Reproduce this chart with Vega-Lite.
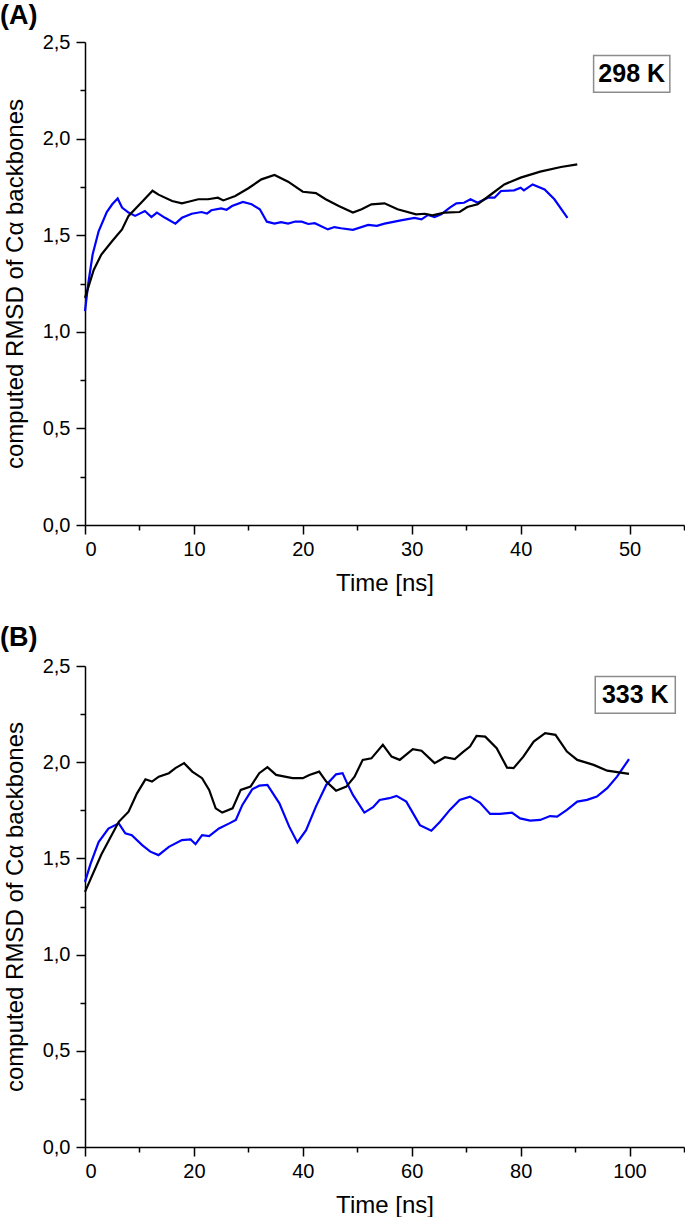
{
  "$schema": "https://vega.github.io/schema/vega-lite/v6.json",
  "autosize": {"type": "pad"},
  "padding": {"left": 0, "top": 2, "right": 0, "bottom": 0},
  "background": "white",
  "spacing": 141,
  "bounds": "flush",
  "config": {
    "view": {"stroke": null},
    "font": "Liberation Sans",
    "axis": {
      "grid": false,
      "domainColor": "black",
      "domainWidth": 1.5,
      "tickColor": "black",
      "tickWidth": 1.5,
      "labelColor": "black",
      "labelFont": "Liberation Sans",
      "labelFontSize": 20,
      "titleFont": "Liberation Sans",
      "titleFontSize": 24,
      "titleFontWeight": "normal",
      "titleColor": "black"
    }
  },
  "datasets": {
    "A": [
      {"s": "blue", "t": 0, "v": 1.107}, {"s": "blue", "t": 0.3, "v": 1.25}, {"s": "blue", "t": 0.7, "v": 1.40}, {"s": "blue", "t": 1.25, "v": 1.52}, {"s": "blue", "t": 2.0, "v": 1.62}, {"s": "blue", "t": 2.5, "v": 1.66}, {"s": "blue", "t": 3.0, "v": 1.69}, {"s": "blue", "t": 3.4, "v": 1.643}, {"s": "blue", "t": 4.0, "v": 1.617}, {"s": "blue", "t": 4.6, "v": 1.600}, {"s": "blue", "t": 5.5, "v": 1.625}, {"s": "blue", "t": 6.1, "v": 1.594}, {"s": "blue", "t": 6.6, "v": 1.617}, {"s": "blue", "t": 7.35, "v": 1.590}, {"s": "blue", "t": 8.3, "v": 1.560}, {"s": "blue", "t": 8.9, "v": 1.590}, {"s": "blue", "t": 9.8, "v": 1.611}, {"s": "blue", "t": 10.7, "v": 1.620}, {"s": "blue", "t": 11.2, "v": 1.612}, {"s": "blue", "t": 11.6, "v": 1.629}, {"s": "blue", "t": 12.5, "v": 1.639}, {"s": "blue", "t": 13.0, "v": 1.632}, {"s": "blue", "t": 13.5, "v": 1.651}, {"s": "blue", "t": 14.5, "v": 1.672}, {"s": "blue", "t": 15.3, "v": 1.660}, {"s": "blue", "t": 16.05, "v": 1.634}, {"s": "blue", "t": 16.7, "v": 1.570}, {"s": "blue", "t": 17.4, "v": 1.560}, {"s": "blue", "t": 18.0, "v": 1.568}, {"s": "blue", "t": 18.65, "v": 1.560}, {"s": "blue", "t": 19.3, "v": 1.571}, {"s": "blue", "t": 19.9, "v": 1.570}, {"s": "blue", "t": 20.5, "v": 1.558}, {"s": "blue", "t": 21.1, "v": 1.562}, {"s": "blue", "t": 22.3, "v": 1.530}, {"s": "blue", "t": 22.9, "v": 1.542}, {"s": "blue", "t": 23.5, "v": 1.536}, {"s": "blue", "t": 24.6, "v": 1.528}, {"s": "blue", "t": 26.0, "v": 1.553}, {"s": "blue", "t": 26.8, "v": 1.548}, {"s": "blue", "t": 27.5, "v": 1.560}, {"s": "blue", "t": 29.0, "v": 1.577}, {"s": "blue", "t": 30.25, "v": 1.590}, {"s": "blue", "t": 30.9, "v": 1.582}, {"s": "blue", "t": 31.5, "v": 1.605}, {"s": "blue", "t": 32.1, "v": 1.594}, {"s": "blue", "t": 32.7, "v": 1.608}, {"s": "blue", "t": 33.5, "v": 1.643}, {"s": "blue", "t": 34.1, "v": 1.665}, {"s": "blue", "t": 34.8, "v": 1.668}, {"s": "blue", "t": 35.4, "v": 1.686}, {"s": "blue", "t": 36.05, "v": 1.668}, {"s": "blue", "t": 37.0, "v": 1.694}, {"s": "blue", "t": 37.6, "v": 1.694}, {"s": "blue", "t": 38.2, "v": 1.729}, {"s": "blue", "t": 39.4, "v": 1.732}, {"s": "blue", "t": 40.0, "v": 1.746}, {"s": "blue", "t": 40.3, "v": 1.732}, {"s": "blue", "t": 41.1, "v": 1.763}, {"s": "blue", "t": 42.2, "v": 1.737}, {"s": "blue", "t": 43.1, "v": 1.686}, {"s": "blue", "t": 44.3, "v": 1.590},
      {"s": "black", "t": 0, "v": 1.176}, {"s": "black", "t": 0.8, "v": 1.32}, {"s": "black", "t": 1.5, "v": 1.40}, {"s": "black", "t": 2.5, "v": 1.47}, {"s": "black", "t": 3.4, "v": 1.53}, {"s": "black", "t": 4.0, "v": 1.60}, {"s": "black", "t": 5.2, "v": 1.67}, {"s": "black", "t": 6.2, "v": 1.73}, {"s": "black", "t": 6.75, "v": 1.71}, {"s": "black", "t": 8.0, "v": 1.677}, {"s": "black", "t": 8.9, "v": 1.665}, {"s": "black", "t": 9.5, "v": 1.673}, {"s": "black", "t": 10.4, "v": 1.686}, {"s": "black", "t": 11.3, "v": 1.686}, {"s": "black", "t": 12.2, "v": 1.694}, {"s": "black", "t": 12.7, "v": 1.680}, {"s": "black", "t": 13.8, "v": 1.703}, {"s": "black", "t": 15.0, "v": 1.743}, {"s": "black", "t": 16.2, "v": 1.789}, {"s": "black", "t": 17.4, "v": 1.812}, {"s": "black", "t": 18.65, "v": 1.777}, {"s": "black", "t": 20.0, "v": 1.725}, {"s": "black", "t": 21.2, "v": 1.718}, {"s": "black", "t": 22.1, "v": 1.686}, {"s": "black", "t": 23.3, "v": 1.651}, {"s": "black", "t": 24.6, "v": 1.617}, {"s": "black", "t": 25.4, "v": 1.634}, {"s": "black", "t": 26.3, "v": 1.660}, {"s": "black", "t": 27.5, "v": 1.665}, {"s": "black", "t": 28.7, "v": 1.634}, {"s": "black", "t": 30.4, "v": 1.608}, {"s": "black", "t": 31.2, "v": 1.611}, {"s": "black", "t": 31.9, "v": 1.603}, {"s": "black", "t": 33.0, "v": 1.617}, {"s": "black", "t": 34.4, "v": 1.620}, {"s": "black", "t": 35.1, "v": 1.646}, {"s": "black", "t": 36.05, "v": 1.660}, {"s": "black", "t": 37.3, "v": 1.712}, {"s": "black", "t": 38.5, "v": 1.763}, {"s": "black", "t": 40.0, "v": 1.798}, {"s": "black", "t": 41.8, "v": 1.829}, {"s": "black", "t": 43.7, "v": 1.853}, {"s": "black", "t": 45.2, "v": 1.867}
    ],
    "B": [
      {"s": "blue", "t": 0, "v": 1.378}, {"s": "blue", "t": 1.0, "v": 1.47}, {"s": "blue", "t": 2.5, "v": 1.585}, {"s": "blue", "t": 4.3, "v": 1.655}, {"s": "blue", "t": 6.2, "v": 1.682}, {"s": "blue", "t": 7.4, "v": 1.630}, {"s": "blue", "t": 8.6, "v": 1.621}, {"s": "blue", "t": 10.5, "v": 1.569}, {"s": "blue", "t": 12.0, "v": 1.535}, {"s": "blue", "t": 13.5, "v": 1.517}, {"s": "blue", "t": 15.4, "v": 1.560}, {"s": "blue", "t": 17.8, "v": 1.595}, {"s": "blue", "t": 19.4, "v": 1.599}, {"s": "blue", "t": 20.3, "v": 1.574}, {"s": "blue", "t": 21.5, "v": 1.621}, {"s": "blue", "t": 22.8, "v": 1.616}, {"s": "blue", "t": 24.6, "v": 1.656}, {"s": "blue", "t": 26.5, "v": 1.682}, {"s": "blue", "t": 27.7, "v": 1.700}, {"s": "blue", "t": 28.9, "v": 1.778}, {"s": "blue", "t": 30.7, "v": 1.859}, {"s": "blue", "t": 32.0, "v": 1.878}, {"s": "blue", "t": 33.5, "v": 1.882}, {"s": "blue", "t": 35.7, "v": 1.786}, {"s": "blue", "t": 37.5, "v": 1.665}, {"s": "blue", "t": 39.0, "v": 1.583}, {"s": "blue", "t": 40.6, "v": 1.647}, {"s": "blue", "t": 42.4, "v": 1.769}, {"s": "blue", "t": 44.3, "v": 1.882}, {"s": "blue", "t": 46.1, "v": 1.937}, {"s": "blue", "t": 47.3, "v": 1.943}, {"s": "blue", "t": 48.0, "v": 1.899}, {"s": "blue", "t": 49.2, "v": 1.830}, {"s": "blue", "t": 51.3, "v": 1.738}, {"s": "blue", "t": 52.9, "v": 1.766}, {"s": "blue", "t": 54.1, "v": 1.804}, {"s": "blue", "t": 55.9, "v": 1.813}, {"s": "blue", "t": 57.2, "v": 1.825}, {"s": "blue", "t": 59.0, "v": 1.795}, {"s": "blue", "t": 61.5, "v": 1.673}, {"s": "blue", "t": 63.6, "v": 1.644}, {"s": "blue", "t": 65.2, "v": 1.691}, {"s": "blue", "t": 67.0, "v": 1.752}, {"s": "blue", "t": 68.8, "v": 1.804}, {"s": "blue", "t": 70.7, "v": 1.821}, {"s": "blue", "t": 72.5, "v": 1.790}, {"s": "blue", "t": 74.4, "v": 1.731}, {"s": "blue", "t": 76.2, "v": 1.731}, {"s": "blue", "t": 78.4, "v": 1.738}, {"s": "blue", "t": 79.9, "v": 1.708}, {"s": "blue", "t": 81.75, "v": 1.696}, {"s": "blue", "t": 83.6, "v": 1.700}, {"s": "blue", "t": 85.4, "v": 1.720}, {"s": "blue", "t": 86.7, "v": 1.717}, {"s": "blue", "t": 88.5, "v": 1.752}, {"s": "blue", "t": 90.4, "v": 1.795}, {"s": "blue", "t": 92.2, "v": 1.804}, {"s": "blue", "t": 94.0, "v": 1.821}, {"s": "blue", "t": 95.9, "v": 1.865}, {"s": "blue", "t": 97.7, "v": 1.925}, {"s": "blue", "t": 99.9, "v": 2.016},
      {"s": "black", "t": 0, "v": 1.326}, {"s": "black", "t": 3.0, "v": 1.52}, {"s": "black", "t": 6.2, "v": 1.690}, {"s": "black", "t": 8.0, "v": 1.743}, {"s": "black", "t": 9.55, "v": 1.838}, {"s": "black", "t": 11.1, "v": 1.911}, {"s": "black", "t": 12.3, "v": 1.899}, {"s": "black", "t": 13.55, "v": 1.925}, {"s": "black", "t": 15.4, "v": 1.943}, {"s": "black", "t": 16.6, "v": 1.969}, {"s": "black", "t": 18.2, "v": 1.995}, {"s": "black", "t": 19.7, "v": 1.951}, {"s": "black", "t": 21.5, "v": 1.917}, {"s": "black", "t": 22.8, "v": 1.856}, {"s": "black", "t": 24.0, "v": 1.760}, {"s": "black", "t": 25.2, "v": 1.738}, {"s": "black", "t": 27.1, "v": 1.760}, {"s": "black", "t": 28.6, "v": 1.856}, {"s": "black", "t": 30.4, "v": 1.873}, {"s": "black", "t": 32.0, "v": 1.943}, {"s": "black", "t": 33.5, "v": 1.974}, {"s": "black", "t": 35.1, "v": 1.934}, {"s": "black", "t": 38.1, "v": 1.917}, {"s": "black", "t": 40.0, "v": 1.917}, {"s": "black", "t": 41.2, "v": 1.934}, {"s": "black", "t": 43.0, "v": 1.951}, {"s": "black", "t": 44.3, "v": 1.899}, {"s": "black", "t": 46.1, "v": 1.852}, {"s": "black", "t": 48.0, "v": 1.873}, {"s": "black", "t": 49.5, "v": 1.925}, {"s": "black", "t": 51.0, "v": 2.012}, {"s": "black", "t": 52.6, "v": 2.020}, {"s": "black", "t": 54.7, "v": 2.090}, {"s": "black", "t": 56.3, "v": 2.029}, {"s": "black", "t": 57.8, "v": 2.012}, {"s": "black", "t": 60.2, "v": 2.068}, {"s": "black", "t": 61.8, "v": 2.060}, {"s": "black", "t": 64.2, "v": 1.995}, {"s": "black", "t": 66.1, "v": 2.026}, {"s": "black", "t": 67.9, "v": 2.016}, {"s": "black", "t": 69.5, "v": 2.055}, {"s": "black", "t": 70.7, "v": 2.081}, {"s": "black", "t": 71.9, "v": 2.137}, {"s": "black", "t": 73.5, "v": 2.133}, {"s": "black", "t": 75.6, "v": 2.073}, {"s": "black", "t": 77.5, "v": 1.972}, {"s": "black", "t": 78.7, "v": 1.969}, {"s": "black", "t": 80.5, "v": 2.029}, {"s": "black", "t": 82.4, "v": 2.107}, {"s": "black", "t": 84.5, "v": 2.151}, {"s": "black", "t": 86.4, "v": 2.142}, {"s": "black", "t": 88.5, "v": 2.055}, {"s": "black", "t": 90.4, "v": 2.012}, {"s": "black", "t": 93.4, "v": 1.986}, {"s": "black", "t": 95.9, "v": 1.956}, {"s": "black", "t": 99.9, "v": 1.939}
    ]
  },
  "vconcat": [
    {
      "width": 599,
      "height": 483,
      "title": {"text": "(A)", "anchor": "start", "frame": "group", "dx": -85, "offset": -25, "baseline": "bottom", "fontSize": 27, "fontWeight": "bold", "font": "Liberation Sans", "color": "black"},
      "layer": [
        {
          "data": {"name": "A"},
          "mark": {"type": "line", "strokeWidth": 2.2, "interpolate": "linear"},
          "encoding": {
            "x": {"field": "t", "type": "quantitative", "scale": {"domain": [0, 55], "nice": false, "zero": false},
              "axis": {"title": "Time [ns]", "values": [0, 5, 10, 15, 20, 25, 30, 35, 40, 45, 50, 55], "labelExpr": "datum.value % 10 === 0 ? datum.label : ''", "tickSize": {"condition": {"test": "datum.value % 10 === 0", "value": 9}, "value": 5}, "labelPadding": 5, "titlePadding": 12}},
            "y": {"field": "v", "type": "quantitative", "scale": {"domain": [0, 2.5], "nice": false},
              "axis": {"title": "computed RMSD of Cα backbones", "values": [0, 0.25, 0.5, 0.75, 1, 1.25, 1.5, 1.75, 2, 2.25, 2.5], "labelExpr": "(datum.value * 2) % 1 === 0 ? replace(format(datum.value, '.1f'), '.', ',') : ''", "tickSize": {"condition": {"test": "(datum.value * 2) % 1 === 0", "value": 9}, "value": 5}, "labelPadding": 6, "titlePadding": 15}},
            "color": {"field": "s", "type": "nominal", "scale": {"domain": ["blue", "black"], "range": ["#0000ff", "#000000"]}, "legend": null},
            "order": {"field": "t", "type": "quantitative"}
          }
        },
        {
          "data": {"values": [{"label": "298 K", "t0": 46.7, "t1": 53.7, "v0": 2.43, "v1": 2.24}]},
          "mark": {"type": "rect", "fill": "white", "stroke": "#8c8c8c", "strokeWidth": 1.5},
          "encoding": {"x": {"field": "t0", "type": "quantitative"}, "x2": {"field": "t1"}, "y": {"field": "v0", "type": "quantitative"}, "y2": {"field": "v1"}}
        },
        {
          "data": {"values": [{"label": "298 K", "tc": 50.2, "vc": 2.335}]},
          "mark": {"type": "text", "fontSize": 25, "fontWeight": "bold", "font": "Liberation Sans", "color": "black", "baseline": "middle", "align": "center"},
          "encoding": {"x": {"field": "tc", "type": "quantitative"}, "y": {"field": "vc", "type": "quantitative"}, "text": {"field": "label"}}
        }
      ]
    },
    {
      "width": 599,
      "height": 481,
      "title": {"text": "(B)", "anchor": "start", "frame": "group", "dx": -85, "offset": -23, "baseline": "bottom", "fontSize": 27, "fontWeight": "bold", "font": "Liberation Sans", "color": "black"},
      "layer": [
        {
          "data": {"name": "B"},
          "mark": {"type": "line", "strokeWidth": 2.2, "interpolate": "linear"},
          "encoding": {
            "x": {"field": "t", "type": "quantitative", "scale": {"domain": [0, 110], "nice": false, "zero": false},
              "axis": {"title": "Time [ns]", "values": [0, 10, 20, 30, 40, 50, 60, 70, 80, 90, 100, 110], "labelExpr": "datum.value % 20 === 0 ? datum.label : ''", "tickSize": {"condition": {"test": "datum.value % 20 === 0", "value": 9}, "value": 5}, "labelPadding": 5, "titlePadding": 12}},
            "y": {"field": "v", "type": "quantitative", "scale": {"domain": [0, 2.5], "nice": false},
              "axis": {"title": "computed RMSD of Cα backbones", "values": [0, 0.25, 0.5, 0.75, 1, 1.25, 1.5, 1.75, 2, 2.25, 2.5], "labelExpr": "(datum.value * 2) % 1 === 0 ? replace(format(datum.value, '.1f'), '.', ',') : ''", "tickSize": {"condition": {"test": "(datum.value * 2) % 1 === 0", "value": 9}, "value": 5}, "labelPadding": 6, "titlePadding": 15}},
            "color": {"field": "s", "type": "nominal", "scale": {"domain": ["blue", "black"], "range": ["#0000ff", "#000000"]}, "legend": null},
            "order": {"field": "t", "type": "quantitative"}
          }
        },
        {
          "data": {"values": [{"label": "333 K", "t0": 93.7, "t1": 108.4, "v0": 2.445, "v1": 2.255}]},
          "mark": {"type": "rect", "fill": "white", "stroke": "#8c8c8c", "strokeWidth": 1.5},
          "encoding": {"x": {"field": "t0", "type": "quantitative"}, "x2": {"field": "t1"}, "y": {"field": "v0", "type": "quantitative"}, "y2": {"field": "v1"}}
        },
        {
          "data": {"values": [{"label": "333 K", "tc": 101.05, "vc": 2.35}]},
          "mark": {"type": "text", "fontSize": 25, "fontWeight": "bold", "font": "Liberation Sans", "color": "black", "baseline": "middle", "align": "center"},
          "encoding": {"x": {"field": "tc", "type": "quantitative"}, "y": {"field": "vc", "type": "quantitative"}, "text": {"field": "label"}}
        }
      ]
    }
  ]
}
